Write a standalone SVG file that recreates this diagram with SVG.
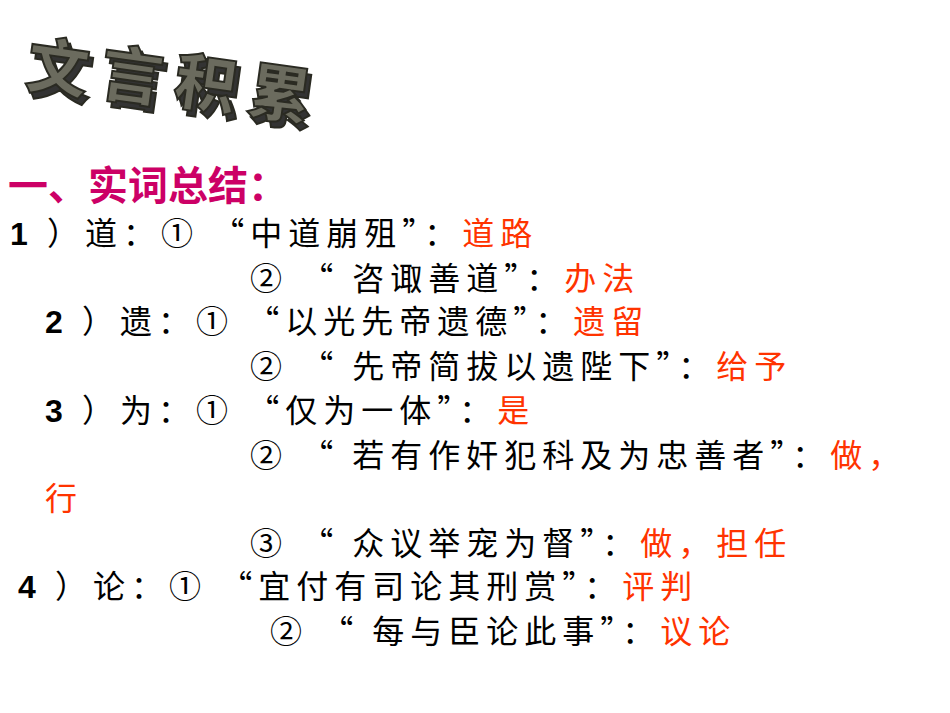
<svg xmlns="http://www.w3.org/2000/svg" width="950" height="713" viewBox="0 0 950 713">
<style>
.t{font-family:"Noto Sans CJK SC",sans-serif;font-size:32px;letter-spacing:6px;fill:#000}
.b{font-family:"Liberation Sans",sans-serif;font-weight:bold}
.r{fill:#FF3300}
.h{font-family:"Noto Sans CJK SC",sans-serif;font-size:40px;font-weight:bold;fill:#CC0066}
.ti{font-family:"Noto Sans CJK SC",sans-serif;font-size:62px;font-weight:900;fill:#6b6b5e;stroke:#2a2a22;stroke-width:2}
</style>
<rect width="950" height="713" fill="#fff"/>
<g id="title">
<text class="ti" x="28" y="92" transform="rotate(8 28 92)" style="fill:#333">文</text>
<text class="ti" x="24" y="86" transform="rotate(8 24 86)">文</text>
<text class="ti" x="102" y="100" transform="rotate(8 102 100)" style="fill:#333">言</text>
<text class="ti" x="98" y="94" transform="rotate(8 98 94)">言</text>
<text class="ti" x="176" y="108" transform="rotate(8 176 108)" style="fill:#333">积</text>
<text class="ti" x="172" y="102" transform="rotate(8 172 102)">积</text>
<text class="ti" x="250" y="118" transform="rotate(8 250 118)" style="fill:#333">累</text>
<text class="ti" x="246" y="112" transform="rotate(8 246 112)">累</text>
</g>
<text class="h" x="8" y="200">一、实词总结：</text>
<text class="t" x="10" y="245"><tspan class="b">1</tspan> ）道：① “中道崩殂”：<tspan class="r">道路</tspan></text>
<text class="t" x="250" y="290">② “ 咨诹善道”：<tspan class="r">办法</tspan></text>
<text class="t" x="45" y="333"><tspan class="b">2</tspan> ）遗：① “以光先帝遗德”：<tspan class="r">遗留</tspan></text>
<text class="t" x="250" y="378">② “ 先帝简拔以遗陛下”：<tspan class="r">给予</tspan></text>
<text class="t" x="45" y="422"><tspan class="b">3</tspan> ）为：① “仅为一体”：<tspan class="r">是</tspan></text>
<text class="t" x="250" y="467">② “ 若有作奸犯科及为忠善者”：<tspan class="r">做，</tspan></text>
<text class="t r" x="45" y="510">行</text>
<text class="t" x="250" y="555">③ “ 众议举宠为督”：<tspan class="r">做，担任</tspan></text>
<text class="t" x="18" y="598"><tspan class="b">4</tspan> ）论：① “宜付有司论其刑赏”：<tspan class="r">评判</tspan></text>
<text class="t" x="270" y="643">② “ 每与臣论此事”：<tspan class="r">议论</tspan></text>
</svg>
